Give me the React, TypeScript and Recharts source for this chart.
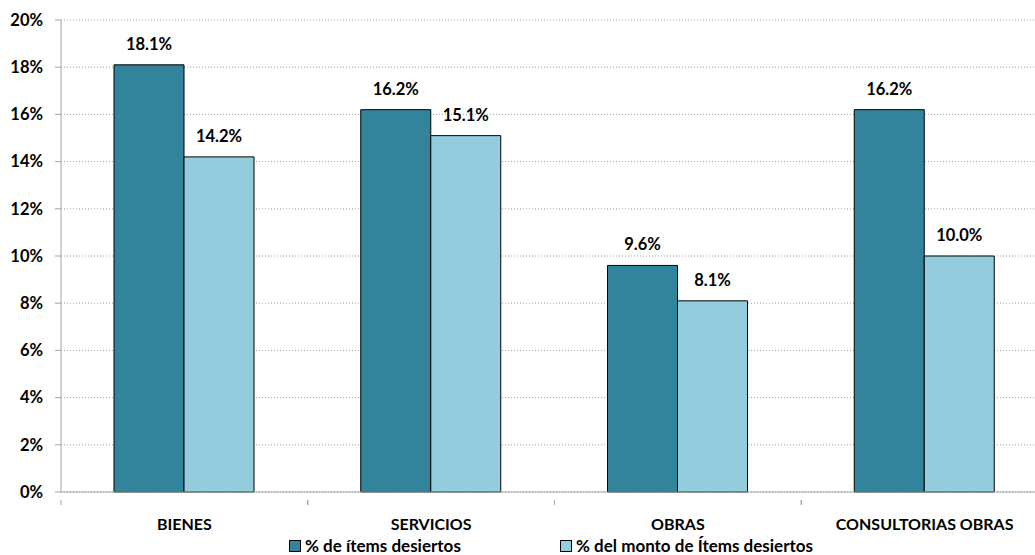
import { BarChart, Bar, XAxis, YAxis, CartesianGrid, Legend, LabelList } from 'recharts'

const categories = ['BIENES', 'SERVICIOS', 'OBRAS', 'CONSULTORIAS OBRAS']
const itemsPct = [18.1, 16.2, 9.6, 16.2]
const montoPct = [14.2, 15.1, 8.1, 10.0]
const yTicks = [0, 2, 4, 6, 8, 10, 12, 14, 16, 18, 20]

const seriesNames = ['% de ítems desiertos', '% del monto de Ítems desiertos']
const colors = ['#31849B', '#93CDDD']

const data = categories.map((name, i) => ({
  name,
  items: itemsPct[i],
  monto: montoPct[i]
}))

// the original plot runs a bit past the right edge of the picture
const W = 1048
const H = 555
const LEFT = 61
const bandWidth = (W - LEFT) / categories.length
const font = 'Lato, "Open Sans", sans-serif'
const axisGray = '#A6A6A6'
const legendLefts = [289, 560]

const CategoryTick = (props: any) => {
  const { x, y, payload } = props
  return (
    <g>
      <line x1={x - bandWidth / 2} x2={x - bandWidth / 2} y1={y} y2={y + 5} stroke={axisGray} />
      <line x1={x + bandWidth / 2} x2={x + bandWidth / 2} y1={y} y2={y + 5} stroke={axisGray} />
      <text x={x} y={y + 30} textAnchor="middle" fontFamily={font} fontWeight="bold" fontSize={16} fill="#000">
        {payload.value}
      </text>
    </g>
  )
}

const CustomLegend = () => (
  <div style={{ position: 'relative', height: 19, fontFamily: font, fontWeight: 'bold', fontSize: 17, color: '#000', lineHeight: '19px' }}>
    {seriesNames.map((n, i) => (
      <div key={n} style={{ position: 'absolute', left: legendLefts[i], top: 0, display: 'flex', alignItems: 'center', whiteSpace: 'nowrap' }}>
        <span style={{ display: 'inline-block', width: 10, height: 10, background: colors[i], border: '1px solid #000', marginRight: 4 }} />
        {n}
      </div>
    ))}
  </div>
)

const labelStyle = { fontFamily: font, fontWeight: 'bold', fontSize: 16.5, fill: '#000' }

const App = () => {
  return (
    <div style={{ position: 'absolute', left: 0, top: 0, width: 1035, height: H, overflow: 'hidden', background: '#fff' }}>
      <BarChart width={W} height={H} data={data} margin={{ top: 20, right: 0, left: 0, bottom: 0 }} barGap={0} barSize={70}>
        <CartesianGrid vertical={false} stroke="#A0A0A0" strokeDasharray="1 2" />
        <XAxis dataKey="name" height={38} tick={<CategoryTick />} tickLine={false} axisLine={{ stroke: axisGray }} interval={0} />
        <YAxis
          width={LEFT}
          domain={[0, 20]}
          ticks={yTicks}
          interval={0}
          tickFormatter={(v: number) => `${v}%`}
          tick={labelStyle}
          tickSize={6}
          tickMargin={12}
          tickLine={{ stroke: axisGray }}
          axisLine={{ stroke: axisGray }}
        />
        <Legend verticalAlign="bottom" height={25} content={<CustomLegend />} wrapperStyle={{ top: 536, left: 0, width: 1035 }} />
        <Bar dataKey="items" name={seriesNames[0]} fill={colors[0]} stroke="#000" strokeWidth={1} isAnimationActive={false}>
          <LabelList dataKey="items" position="top" offset={15} formatter={(v: any) => `${Number(v).toFixed(1)}%`} style={labelStyle} />
        </Bar>
        <Bar dataKey="monto" name={seriesNames[1]} fill={colors[1]} stroke="#000" strokeWidth={1} isAnimationActive={false}>
          <LabelList dataKey="monto" position="top" offset={15} formatter={(v: any) => `${Number(v).toFixed(1)}%`} style={labelStyle} />
        </Bar>
      </BarChart>
    </div>
  )
}

export default App
